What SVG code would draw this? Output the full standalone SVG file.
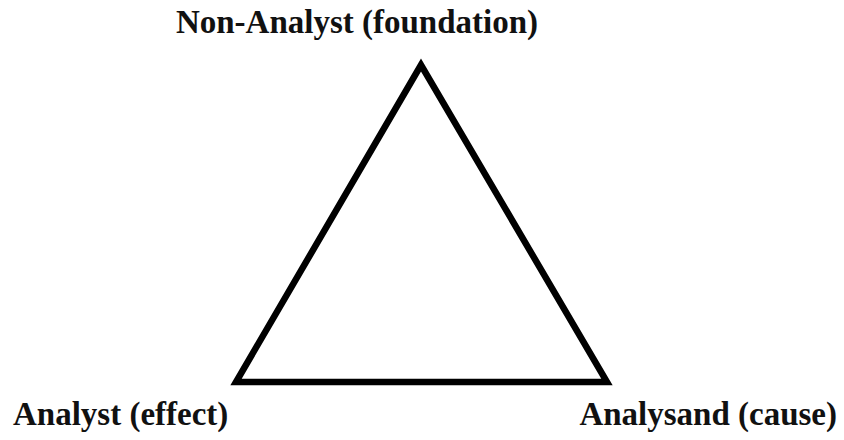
<svg xmlns="http://www.w3.org/2000/svg" width="844" height="440" viewBox="0 0 844 440">
<style>
.lbl{font-family:"Liberation Serif","Times New Roman",serif;font-weight:bold;font-size:33px;fill:#111;}
.edge{fill:none;stroke:#000;stroke-width:6.5;stroke-linejoin:miter;}
</style>
<rect width="844" height="440" fill="#fff"/>
<g id="connectors">
<polygon class="edge" points="421,65 236,382 607,382"/>
</g>
<g id="node-top"><text class="lbl" x="357" y="33" text-anchor="middle">Non-Analyst (foundation)</text></g>
<g id="node-left"><text class="lbl" x="13" y="425">Analyst (effect)</text></g>
<g id="node-right"><text class="lbl" x="837" y="425" text-anchor="end">Analysand (cause)</text></g>
</svg>
